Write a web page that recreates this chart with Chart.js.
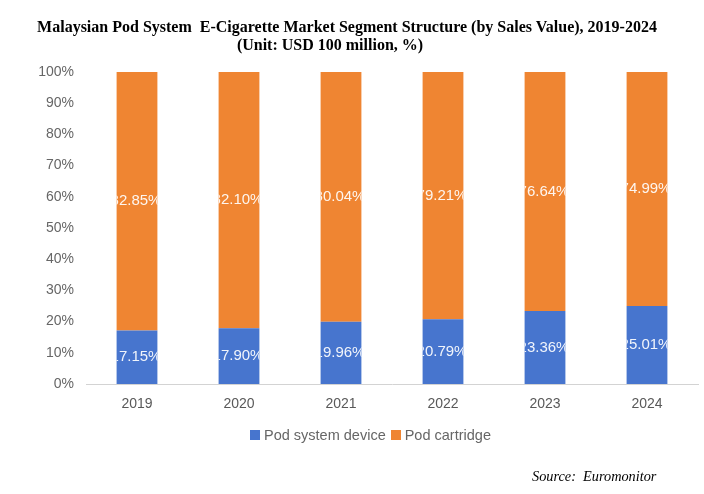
<!DOCTYPE html>
<html>
<head>
<meta charset="utf-8">
<script src="https://cdn.jsdelivr.net/npm/chart.js@4.4.1/dist/chart.umd.min.js"></script>
<style>
  html, body { margin:0; padding:0; background:#fff; }
  #wrap { position:relative; width:704px; height:494px; overflow:hidden; }
  #c { position:absolute; left:0; top:0; }
  .t { position:absolute; font-family:"Liberation Serif","Times New Roman",serif; font-weight:bold; font-size:16px; color:#000; white-space:pre; text-align:center; }
  #legend { position:absolute; left:250px; top:427px; font-family:"Liberation Sans",Arial,Helvetica,sans-serif; font-size:14.5px; color:#666; white-space:nowrap; display:flex; align-items:center; }
  #legend .box { display:inline-block; width:10px; height:10px; margin-right:4px; }
  #legend .item { display:flex; align-items:center; margin-right:5px; }
  #src { position:absolute; left:532px; top:468px; font-family:"Liberation Serif","Times New Roman",serif; font-style:italic; font-size:14.3px; color:#000; white-space:pre; }
</style>
</head>
<body>
<div id="wrap">
  <canvas id="c" width="704" height="494"></canvas>
  <div class="t" id="t1" style="left:0; width:694px; top:18px;">Malaysian Pod System  E-Cigarette Market Segment Structure (by Sales Value), 2019-2024</div>
  <div class="t" id="t2" style="left:0; width:660px; top:36px;">(Unit: USD 100 million, %)</div>
  <div id="legend"></div>
  <div id="src">Source:  Euromonitor</div>
</div>
<script>
const categories = ["2019", "2020", "2021", "2022", "2023", "2024"];
const podDevice = [17.15, 17.90, 19.96, 20.79, 23.36, 25.01];
const podCartridge = [82.85, 82.10, 80.04, 79.21, 76.64, 74.99];
const seriesNames = ["Pod system device", "Pod cartridge"];
const seriesColors = ["#4775CE", "#EF8532"];
const yTicks = [0, 10, 20, 30, 40, 50, 60, 70, 80, 90, 100];

const FONT = '"Liberation Sans", Arial, Helvetica, sans-serif';

const clippedLabels = {
  id: 'clippedLabels',
  afterDatasetsDraw(chart) {
    const ctx = chart.ctx;
    chart.data.datasets.forEach((ds, di) => {
      const meta = chart.getDatasetMeta(di);
      meta.data.forEach((bar, i) => {
        const p = bar.getProps(['x', 'y', 'base', 'width'], true);
        const top = Math.min(p.y, p.base), h = Math.abs(p.base - p.y);
        ctx.save();
        ctx.beginPath();
        ctx.rect(p.x - p.width / 2, top, p.width, h);
        ctx.clip();
        ctx.fillStyle = 'rgba(255,255,255,0.92)';
        ctx.font = '15px ' + FONT;
        ctx.textAlign = 'center';
        ctx.textBaseline = 'middle';
        ctx.fillText(ds.data[i].toFixed(2) + '%', p.x - 1, top + h / 2);
        ctx.restore();
      });
    });
  }
};

new Chart(document.getElementById('c'), {
  type: 'bar',
  data: {
    labels: categories,
    datasets: [
      { label: seriesNames[0], data: podDevice, backgroundColor: seriesColors[0], categoryPercentage: 1, barPercentage: 0.4 },
      { label: seriesNames[1], data: podCartridge, backgroundColor: seriesColors[1], categoryPercentage: 1, barPercentage: 0.4 }
    ]
  },
  options: {
    responsive: false,
    animation: false,
    devicePixelRatio: 1,
    layout: { padding: { top: 72, right: 6, bottom: 60, left: 0 } },
    plugins: { legend: { display: false }, title: { display: false }, tooltip: { enabled: false } },
    scales: {
      x: {
        stacked: true,
        grid: { display: false, drawTicks: false },
        border: { display: true, color: '#d3d3d3', width: 1 },
        ticks: { font: { family: FONT, size: 14 }, color: '#595959', padding: 12 },
        afterFit(s) { s.height = 50; }
      },
      y: {
        stacked: true,
        min: 0, max: 100,
        afterBuildTicks(s) { s.ticks = yTicks.map(v => ({ value: v })); },
        grid: { display: false, drawTicks: false },
        border: { display: false },
        ticks: { font: { family: FONT, size: 14 }, color: '#666', padding: 12, callback: v => v + '%' },
        afterFit(s) { s.width = 86; }
      }
    }
  },
  plugins: [clippedLabels]
});

const lg = document.getElementById('legend');
seriesNames.forEach((n, i) => {
  const it = document.createElement('span');
  it.className = 'item';
  const b = document.createElement('span');
  b.className = 'box';
  b.style.background = seriesColors[i];
  const t = document.createElement('span');
  t.textContent = n;
  it.appendChild(b); it.appendChild(t);
  lg.appendChild(it);
});
</script>
</body>
</html>
